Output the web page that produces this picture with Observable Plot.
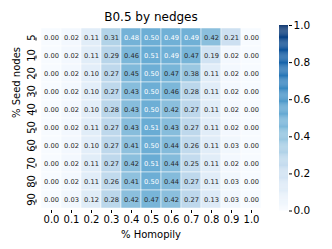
<!DOCTYPE html>
<html><head><meta charset="utf-8">
<script src="https://cdn.jsdelivr.net/npm/d3@7"></script>
<script src="https://cdn.jsdelivr.net/npm/@observablehq/plot@0.6"></script>
<style>
body{margin:0;background:#fff;font-family:"DejaVu Sans",sans-serif;}
#wrap{position:relative;width:332px;height:249px;}
#wrap svg{position:absolute;top:0;left:0;overflow:visible;}
</style></head><body>
<div id="wrap"></div>
<script>
const homophily = ["0.0","0.1","0.2","0.3","0.4","0.5","0.6","0.7","0.8","0.9","1.0"];
const seedNodes = ["5","10","20","30","40","50","60","70","80","90"];
const r5  = [0.00,0.02,0.11,0.31,0.48,0.50,0.49,0.49,0.42,0.21,0.00];
const r10 = [0.00,0.02,0.11,0.29,0.46,0.51,0.49,0.47,0.19,0.02,0.00];
const r20 = [0.00,0.02,0.10,0.27,0.45,0.50,0.47,0.38,0.11,0.02,0.00];
const r30 = [0.00,0.02,0.10,0.27,0.43,0.50,0.46,0.28,0.11,0.02,0.00];
const r40 = [0.00,0.02,0.10,0.28,0.43,0.50,0.42,0.27,0.11,0.02,0.00];
const r50 = [0.00,0.02,0.11,0.27,0.43,0.51,0.43,0.27,0.11,0.02,0.00];
const r60 = [0.00,0.02,0.10,0.27,0.41,0.50,0.44,0.26,0.11,0.03,0.00];
const r70 = [0.00,0.02,0.11,0.27,0.42,0.51,0.44,0.25,0.11,0.02,0.00];
const r80 = [0.00,0.02,0.11,0.26,0.41,0.50,0.44,0.27,0.11,0.03,0.00];
const r90 = [0.00,0.03,0.12,0.28,0.42,0.47,0.42,0.27,0.13,0.03,0.00];
const rows = [r5,r10,r20,r30,r40,r50,r60,r70,r80,r90];
const cbTicks = [0,0.2,0.4,0.6,0.8,1.0];

const data = [];
rows.forEach((r,i)=>r.forEach((v,j)=>data.push({y:seedNodes[i],x:homophily[j],v})));

const main = Plot.plot({
  width:332, height:249,
  marginLeft:39, marginRight:70, marginTop:25, marginBottom:39,
  style:{fontFamily:"DejaVu Sans, sans-serif", background:"transparent"},
  x:{type:"band", domain:homophily, padding:0, label:null},
  y:{type:"band", domain:seedNodes, padding:0, label:null},
  color:{type:"linear", scheme:"blues", domain:[0,1]},
  marks:[
    Plot.cell(data,{x:"x",y:"y",fill:"v",stroke:"white",strokeWidth:0.5}),
    Plot.text(data,{x:"x",y:"y",text:d=>d.v.toFixed(2),fontSize:6.7,
      fill:d=>d.v>=0.475?"white":"#262626"}),
    Plot.axisX({tickSize:3,tickPadding:2,fontSize:10,color:"#000",label:null}),
    Plot.axisY({tickSize:3,tickPadding:2,fontSize:10,rotate:-90,textAnchor:"middle",dx:-3,label:null}),
    Plot.text(["B0.5 by nedges"],{frameAnchor:"top",dy:-13,fontSize:12,fill:"#000"}),
    Plot.text(["% Homopily"],{frameAnchor:"bottom",dy:27.5,fontSize:10,fill:"#000"}),
    Plot.text(["% Seed nodes"],{frameAnchor:"left",dx:-23,rotate:-90,fontSize:10,fill:"#000"})
  ]
});
document.getElementById("wrap").appendChild(main);

const steps = d3.range(0,1,0.005);
const cb = Plot.plot({
  width:332, height:249,
  marginLeft:279, marginRight:44, marginTop:25, marginBottom:38.5,
  style:{fontFamily:"DejaVu Sans, sans-serif", background:"transparent"},
  x:{axis:null, domain:[0,1]},
  y:{domain:[0,1], label:null},
  color:{type:"linear", scheme:"blues", domain:[0,1]},
  marks:[
    Plot.rect(steps,{x1:0,x2:1,y1:d=>d,y2:d=>Math.min(1,d+0.0055),fill:d=>d+0.0025}),
    Plot.axisY({anchor:"right",ticks:cbTicks,tickFormat:d=>d.toFixed(1),tickSize:3,tickPadding:2,fontSize:10.5,label:null})
  ]
});
document.getElementById("wrap").appendChild(cb);
</script>
</body></html>
